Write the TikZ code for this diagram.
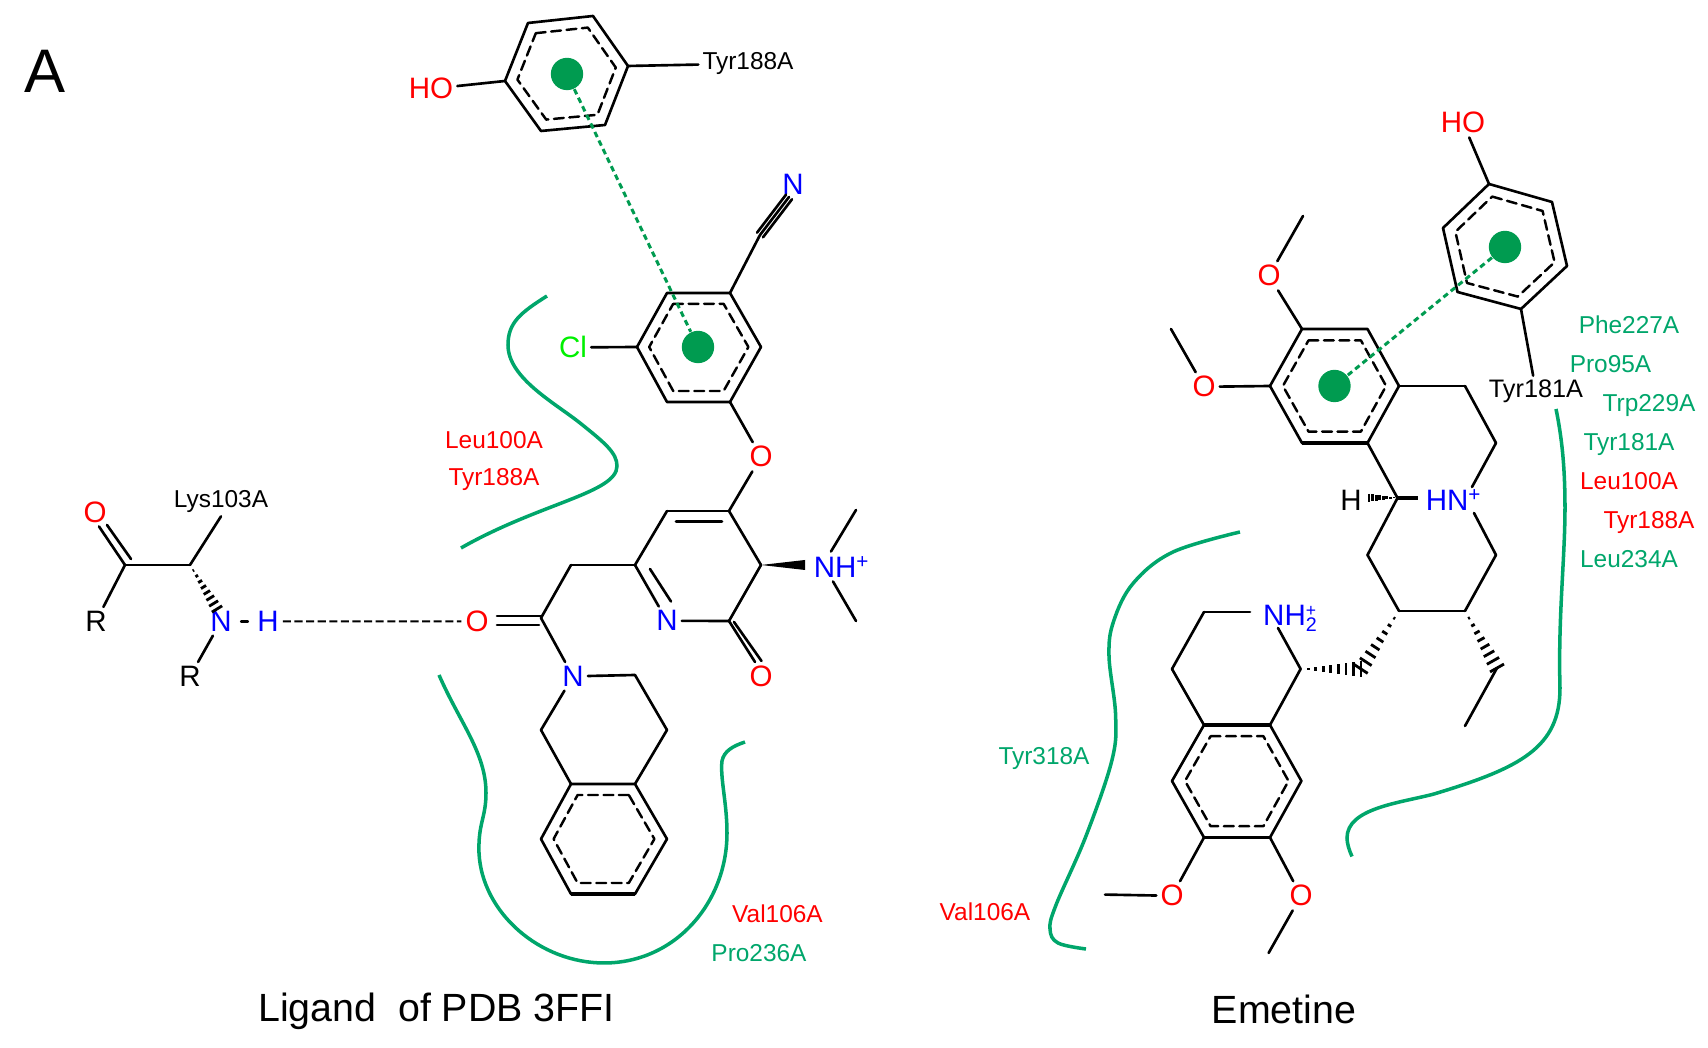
\documentclass[tikz,border=0pt]{standalone}
\usepackage{fontspec}
\setmainfont{Liberation Sans}
\usepackage{tkz-euclide}
\usetikzlibrary{calc}
\definecolor{pocketgreen}{RGB}{0,166,107}
\definecolor{dotgreen}{RGB}{0,155,80}
\definecolor{clgreen}{RGB}{0,240,0}
\tikzset{
  bond/.style={line width=.75pt,color=black,line cap=round},
  inring/.style={line width=.7pt,color=black,dash pattern=on 2.8pt off 1.6pt},
  pocket/.style={line width=1pt,color=pocketgreen},
  stack/.style={line width=.85pt,color=dotgreen,dash pattern=on 1.6pt off 1.1pt},
  hbond/.style={line width=.55pt,color=black,dash pattern=on 2.3pt off 1pt},
  pidot/.style={circle,fill=dotgreen,inner sep=0pt,minimum size=9.2pt},
  atom/.style={font=\fontsize{8.4}{9}\selectfont,inner sep=1pt,anchor=mid,yshift=-.2pt},
  residue/.style={font=\fontsize{6.95}{8}\selectfont,inner sep=1pt,anchor=mid,yshift=.2pt},
  title/.style={font=\fontsize{11.2}{13}\selectfont,inner sep=0pt}
}
\newcommand{\hashbond}[3]{%
  \foreach \t in {.125,.25,...,1.01}
    \draw[line width=.8pt] ($(#1)!\t!(#2)!\t*#3 cm!90:(#1)$) -- ($(#1)!\t!(#2)!-\t*#3 cm!90:(#1)$);
}
\begin{document}
\begin{tikzpicture}[scale=1]
  \useasboundingbox (0,0) rectangle (17.08,10.48);

  \node[title,font=\fontsize{17.5}{20}\selectfont] (panelA) at (.45,9.77) {A};

  % ligand, upper rings
  \tkzDefPoint(5.28,10.25){T1} \tkzDefPoint(5.93,10.32){T2} \tkzDefPoint(6.28,9.82){T3}
  \tkzDefPoint(6.05,9.23){T4} \tkzDefPoint(5.41,9.17){T5} \tkzDefPoint(5.05,9.67){T6}
  \tkzDefPoint(5.67,9.74){TC}
  \tkzDefPoint(6.67,7.55){U1} \tkzDefPoint(7.30,7.55){U2} \tkzDefPoint(7.61,7.01){U3}
  \tkzDefPoint(7.30,6.46){U4} \tkzDefPoint(6.67,6.46){U5} \tkzDefPoint(6.37,7.01){U6}
  \tkzDefPoint(6.98,7.01){UC}
  \tkzDefPoint(7.60,8.13){CN}
  \tkzDefPoint(7.63,8.107){CNa} \tkzDefPoint(7.57,8.153){CNb}
  \tkzDefPoint(7.92,8.487){CNc} \tkzDefPoint(7.86,8.533){CNd} \tkzDefPoint(7.89,8.51){CNe}

  \tkzDefPointsBy[homothety=center TC ratio .8](T1,T2,T3,T4,T5,T6){}
  \tkzDefPointsBy[homothety=center UC ratio .8](U1,U2,U3,U4,U5,U6){}
  \tkzDrawPolygon[bond](T1,T2,T3,T4,T5,T6)
  \tkzDrawPolygon[inring](T1',T2',T3',T4',T5',T6')
  \tkzDrawPolygon[bond](U1,U2,U3,U4,U5,U6)
  \tkzDrawPolygon[inring](U1',U2',U3',U4',U5',U6')

  \node[pidot] (dotT) at (TC) {};
  \node[pidot] (dotU) at (UC) {};
  \draw[stack] (dotT) -- (dotU);

  \node[atom,red] (hoT) at (4.31,9.59) {HO};
  \node[residue,black] (tyrT) at (7.48,9.87) {Tyr188A};
  \node[atom,clgreen] (clU) at (5.73,7.00) {Cl};
  \node[atom,blue] (nCN) at (7.93,8.63) {N};
  \node[atom,red] (oE) at (7.61,5.91) {O};
  \draw[bond] (T6) -- (hoT);
  \draw[bond] (T3) -- (tyrT);
  \draw[bond] (U6) -- (clU);
  \tkzDrawSegments[bond](U2,CN CNa,CNc CN,CNe CNb,CNd)
  \draw[bond] (U4) -- (oE);

  % ligand, pyridone
  \tkzDefPoint(7.29,5.37){V1} \tkzDefPoint(6.67,5.37){V2} \tkzDefPoint(6.35,4.83){V3}
  \tkzDefPoint(7.29,4.27){V5} \tkzDefPoint(7.61,4.83){V6}
  \tkzDefPoint(6.76,5.265){Va} \tkzDefPoint(7.22,5.265){Vb}
  \tkzDefPoint(6.50,4.79){Vc} \tkzDefPoint(6.71,4.465){Vd}
  \tkzDefPoint(7.55,3.86){Ve} \tkzDefPoint(7.34,4.26){Vf} \tkzDefPoint(7.615,3.87){Vg}
  \tkzDefPoint(8.05,4.88){Vh} \tkzDefPoint(8.05,4.78){Vi}
  \tkzDefPoint(8.56,5.38){Ma} \tkzDefPoint(8.31,4.965){Mb}
  \tkzDefPoint(8.33,4.665){Mc} \tkzDefPoint(8.56,4.27){Md}
  \node[atom,blue] (nV) at (6.67,4.27) {N};
  \node[atom,red] (oV) at (7.61,3.715) {O};
  \node[atom,blue] (nhV) at (8.42,4.80) {NH\textsuperscript{+}};
  \draw[bond] (oE) -- (V1);
  \tkzDrawSegments[bond](V1,V2 V2,V3 V5,V6 V6,V1 Va,Vb Vc,Vd Ma,Mb Mc,Md V5,Ve Vf,Vg)
  \draw[bond] (V3) -- (nV);
  \draw[bond] (nV) -- (V5);
  \tkzFillPolygon[color=black](V6,Vh,Vi)

  % ligand, amide and tetrahydroisoquinoline
  \tkzDefPoint(5.71,4.83){W1} \tkzDefPoint(5.41,4.30){W2}
  \tkzDefPoint(5.41,4.32){Wa} \tkzDefPoint(4.97,4.32){Wb}
  \tkzDefPoint(5.39,4.23){Wc} \tkzDefPoint(4.97,4.23){Wd}
  \tkzDefPoint(6.35,3.73){X1} \tkzDefPoint(6.67,3.18){X2} \tkzDefPoint(5.41,3.18){X3}
  \tkzDefPoint(6.35,2.64){R1} \tkzDefPoint(5.71,2.64){R2} \tkzDefPoint(5.41,2.09){R3}
  \tkzDefPoint(5.71,1.54){R4} \tkzDefPoint(6.35,1.54){R5} \tkzDefPoint(6.67,2.09){R6}
  \tkzDefPoint(6.04,2.09){RC}
  \node[atom,red] (oW) at (4.77,4.265) {O};
  \node[atom,blue] (nX) at (5.73,3.715) {N};
  \tkzDrawSegments[bond](V3,W1 W1,W2 Wa,Wb Wc,Wd X1,X2 X2,R1 R2,X3)
  \draw[bond] (W2) -- (nX);
  \draw[bond] (nX) -- (X1);
  \draw[bond] (X3) -- (nX);
  \tkzDefPointsBy[homothety=center RC ratio .8](R1,R2,R3,R4,R5,R6){}
  \tkzDrawPolygon[bond](R1,R2,R3,R4,R5,R6)
  \tkzDrawPolygon[inring](R1',R2',R3',R4',R5',R6')
  \draw[line width=1.1pt] (R4) -- (R5);

  % Lys103A fragment
  \tkzDefPoint(1.25,4.83){C1} \tkzDefPoint(1.90,4.83){C2}
  \tkzDefPoint(.99,5.215){Ca} \tkzDefPoint(1.31,4.89){Cb} \tkzDefPoint(1.07,5.23){Cc}
  \tkzDefPoint(2.17,4.39){Cd}
  \node[atom,red] (oC) at (.95,5.35) {O};
  \node[atom,black] (rA) at (.96,4.265) {R};
  \node[atom,black] (rB) at (1.90,3.715) {R};
  \node[atom,blue] (nL) at (2.21,4.265) {N};
  \node[atom,blue] (hL) at (2.68,4.265) {H};
  \node[residue,black] (lys) at (2.21,5.495) {Lys103A};
  \tkzDrawSegments[bond](C1,C2 C1,Ca Cb,Cc)
  \draw[bond] (C1) -- (rA);
  \draw[bond] (C2) -- (lys.south);
  \draw[bond] (nL) -- (rB);
  \draw[bond,shorten <=1.5pt,shorten >=1.5pt] (nL) -- (hL);
  \hashbond{C2}{Cd}{.06}
  \draw[hbond] (hL) -- (oW);

  % pockets and labels of the ligand
  \draw[pocket] (5.47,7.52) .. controls (5.2,7.35) and (5.08,7.25) .. (5.08,7.03)
    .. controls (5.08,6.7) and (5.55,6.45) .. (5.8,6.25)
    .. controls (6.05,6.05) and (6.17,5.95) .. (6.17,5.82)
    .. controls (6.17,5.55) and (5.4,5.45) .. (4.61,5.00);
  \draw[pocket] (4.39,3.73) .. controls (4.6,3.25) and (4.86,2.95) .. (4.86,2.55)
    .. controls (4.86,2.3) and (4.78,2.25) .. (4.79,1.95)
    .. controls (4.82,1.35) and (5.4,.85) .. (6.04,.85)
    .. controls (6.75,.85) and (7.27,1.45) .. (7.27,2.15)
    .. controls (7.27,2.45) and (7.2,2.7) .. (7.22,2.87)
    .. controls (7.24,2.97) and (7.33,3.02) .. (7.45,3.06);
  \node[residue,red] (leuL) at (4.94,6.08) {Leu100A};
  \node[residue,red] (tyrL) at (4.94,5.71) {Tyr188A};
  \node[residue,red] (valL) at (7.775,1.34) {Val106A};
  \node[residue,pocketgreen] (proL) at (7.59,.95) {Pro236A};
  \node[title] (titleL) at (4.365,.37) {Ligand\ \ of PDB 3FFI};

  % emetine, rings
  \tkzDefPoint(14.89,8.64){A1} \tkzDefPoint(15.52,8.46){A2} \tkzDefPoint(15.67,7.82){A3}
  \tkzDefPoint(15.21,7.39){A4} \tkzDefPoint(14.575,7.56){A5} \tkzDefPoint(14.43,8.20){A6}
  \tkzDefPoint(15.05,8.01){AC}
  \tkzDefPoint(13.02,7.19){B1} \tkzDefPoint(13.675,7.19){B2} \tkzDefPoint(13.99,6.62){B3}
  \tkzDefPoint(13.675,6.05){B4} \tkzDefPoint(13.02,6.05){B5} \tkzDefPoint(12.70,6.62){B6}
  \tkzDefPoint(13.345,6.62){BC}
  \tkzDefPointsBy[homothety=center AC ratio .8](A1,A2,A3,A4,A5,A6){}
  \tkzDefPointsBy[homothety=center BC ratio .8](B1,B2,B3,B4,B5,B6){}
  \tkzDrawPolygon[bond](A1,A2,A3,A4,A5,A6)
  \tkzDrawPolygon[inring](A1',A2',A3',A4',A5',A6')
  \tkzDrawPolygon[bond](B1,B2,B3,B4,B5,B6)
  \tkzDrawPolygon[inring](B1',B2',B3',B4',B5',B6')
  \draw[line width=1.1pt] (B4) -- (B5);
  \node[pidot] (dotA) at (AC) {};
  \node[pidot] (dotB) at (BC) {};
  \draw[stack] (dotA) -- (dotB);

  \tkzDefPoint(13.03,8.32){MeA} \tkzDefPoint(11.71,7.19){MeB}
  \node[atom,red] (hoA) at (14.63,9.25) {HO};
  \node[residue,black,font=\fontsize{7.2}{8}\selectfont] (tyrA) at (15.36,6.59) {Tyr181A};
  \node[atom,red] (oUp) at (12.69,7.72) {O};
  \node[atom,red] (oLo) at (12.04,6.61) {O};
  \draw[bond] (A1) -- (hoA);
  \draw[bond] (A4) -- (tyrA);
  \draw[bond] (B1) -- (oUp);
  \draw[bond] (oUp) -- (MeA);
  \draw[bond] (B6) -- (oLo);
  \draw[bond] (oLo) -- (MeB);

  % emetine, benzoquinolizidine part
  \tkzDefPoint(14.65,6.62){D1} \tkzDefPoint(14.96,6.05){D2} \tkzDefPoint(14.72,5.61){D3}
  \tkzDefPoint(13.975,5.50){E0} \tkzDefPoint(13.69,5.50){E1} \tkzDefPoint(14.18,5.50){E2}
  \tkzDefPoint(14.74,5.35){F0} \tkzDefPoint(14.96,4.93){F2} \tkzDefPoint(13.675,4.93){F1}
  \tkzDefPoint(13.99,4.37){F3} \tkzDefPoint(14.65,4.37){F4}
  \tkzDefPoint(13.61,3.79){G1} \tkzDefPoint(13.006,3.79){G2}
  \tkzDefPoint(14.97,3.80){G3} \tkzDefPoint(14.65,3.22){G4}
  \node[atom,blue] (hnE) at (14.54,5.47) {HN\textsuperscript{+}};
  \node[atom,black] (hE) at (13.51,5.47) {H};
  \tkzDrawSegments[bond](B3,D1 D1,D2 D2,D3 B4,E0 E0,F1 F1,F3 F3,F4 F4,F2 F2,F0 G3,G4)
  \draw[line width=1.3pt] (E0) -- (E2);
  \hashbond{E0}{E1}{.04}
  \hashbond{F3}{G1}{.08}
  \hashbond{G2}{G1}{.08}
  \hashbond{F4}{G3}{.08}

  % emetine, tetrahydroisoquinoline
  \tkzDefPoint(12.04,4.36){H1} \tkzDefPoint(12.50,4.36){H2} \tkzDefPoint(11.72,3.79){H3}
  \tkzDefPoint(12.78,4.20){H4}
  \tkzDefPoint(12.04,3.23){J1} \tkzDefPoint(12.70,3.23){J2} \tkzDefPoint(13.014,2.67){J3}
  \tkzDefPoint(12.70,2.105){J4} \tkzDefPoint(12.04,2.105){J5} \tkzDefPoint(11.72,2.67){J6}
  \tkzDefPoint(12.37,2.67){JC}
  \tkzDefPoint(11.05,1.534){MeC} \tkzDefPoint(12.686,.95){MeD}
  \node[atom,blue] (nhE) at (12.90,4.32) {NH\rlap{\raisebox{2.8pt}{\fontsize{5}{5}\selectfont +}}\raisebox{-1.6pt}{\fontsize{5.6}{5}\selectfont 2}};
  \node[atom,red] (oJl) at (11.72,1.52) {O};
  \node[atom,red] (oJr) at (13.01,1.52) {O};
  \tkzDrawSegments[bond](H2,H1 H1,H3 H3,J1 J2,G2 G2,H4)
  \tkzDefPointsBy[homothety=center JC ratio .8](J1,J2,J3,J4,J5,J6){}
  \tkzDrawPolygon[bond](J1,J2,J3,J4,J5,J6)
  \tkzDrawPolygon[inring](J1',J2',J3',J4',J5',J6')
  \draw[line width=1.3pt] (J1) -- (J2);
  \draw[bond] (J5) -- (oJl);
  \draw[bond] (oJl) -- (MeC);
  \draw[bond] (J4) -- (oJr);
  \draw[bond] (oJr) -- (MeD);

  % pockets and labels of emetine
  \draw[pocket] (15.56,6.39) .. controls (15.62,6.1) and (15.65,5.8) .. (15.65,5.4)
    .. controls (15.65,4.9) and (15.58,4.3) .. (15.60,3.6)
    .. controls (15.6,3.0) and (15.2,2.8) .. (14.34,2.54)
    .. controls (14.0,2.45) and (13.47,2.4) .. (13.47,2.1)
    .. controls (13.47,2.05) and (13.49,1.98) .. (13.52,1.915);
  \draw[pocket] plot[smooth,tension=.6] coordinates {(12.40,5.16) (11.73,4.96) (11.334,4.65) (11.137,4.27) (11.09,3.92) (11.156,3.33) (11.12,2.88) (10.86,2.12) (10.56,1.43) (10.50,1.19) (10.58,1.05) (10.86,.99)};
  \node[residue,pocketgreen] (pheE) at (16.29,7.23) {Phe227A};
  \node[residue,pocketgreen] (proE) at (16.105,6.84) {Pro95A};
  \node[residue,pocketgreen] (trpE) at (16.49,6.45) {Trp229A};
  \node[residue,pocketgreen] (tyrE) at (16.29,6.06) {Tyr181A};
  \node[residue,red] (leuE) at (16.29,5.67) {Leu100A};
  \node[residue,red] (tyrF) at (16.49,5.28) {Tyr188A};
  \node[residue,pocketgreen] (leuF) at (16.29,4.89) {Leu234A};
  \node[residue,pocketgreen] (tyrG) at (10.44,2.92) {Tyr318A};
  \node[residue,red] (valE) at (9.85,1.36) {Val106A};
  \node[title] (titleE) at (12.84,.39) {Emetine};

\end{tikzpicture}
\end{document}
